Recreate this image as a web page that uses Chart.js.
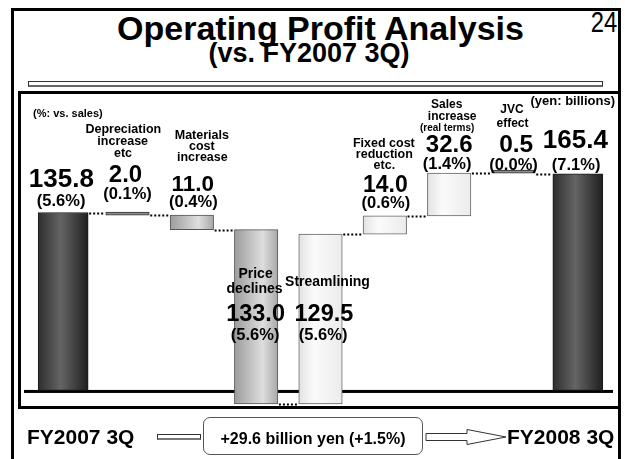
<!DOCTYPE html>
<html><head><meta charset="utf-8">
<script src="https://cdn.jsdelivr.net/npm/chart.js@4.4.1/dist/chart.umd.min.js"></script>
<style>
html,body{margin:0;padding:0;background:#fff;}
body{width:625px;height:459px;position:relative;overflow:hidden;font-family:"Liberation Sans",Arial,Helvetica,sans-serif;color:#000;}
.abs{position:absolute;white-space:nowrap;line-height:1;}
#outer{position:absolute;left:11px;top:8px;width:610px;height:470px;border:3px solid #000;box-sizing:border-box;}
#panel{position:absolute;left:18px;top:91px;width:603px;height:318px;border:3px solid #000;box-sizing:border-box;background:#fff;}
#rule{position:absolute;left:28px;top:81px;width:575px;height:6px;box-sizing:border-box;border:1px solid #333;border-bottom:2px solid #666;background:#fff;}
#shaft{position:absolute;left:157px;top:434px;width:44px;height:6px;box-sizing:border-box;border:1px solid #333;border-bottom:2px solid #777;background:#fff;}
#box{position:absolute;left:203px;top:417px;width:220px;height:38px;box-sizing:border-box;border:1.5px solid #555;border-radius:7px;background:#fff;}
canvas{position:absolute;left:0;top:0;}
</style></head><body>
<div id="outer"></div>
<div id="rule"></div>
<div id="panel"></div>
<div class="abs" style="left:0;width:641px;text-align:center;top:11px;font-size:34px;font-weight:bold;">Operating Profit Analysis</div>
<div class="abs" style="left:0;width:618px;text-align:center;top:40px;font-size:27px;font-weight:bold;">(vs. FY2007 3Q)</div>
<div class="abs" style="right:8px;top:8px;font-size:29px;transform:scaleX(0.82);transform-origin:right center;">24</div>
<div id="shaft"></div>
<div id="box"></div>
<svg style="position:absolute;left:0;top:0" width="625" height="459"><polygon points="426,433.5 467,433.5 467,429.5 506,437 467,444.5 467,440.5 426,440.5" fill="#fff" stroke="#333" stroke-width="1"/></svg>
<canvas id="c" width="625" height="459"></canvas>
<div class="abs" style="left:33px;top:107.5px;font-size:11px;font-weight:bold;">(%: vs. sales)</div>
<div class="abs" style="right:10px;top:93.5px;font-size:13px;font-weight:bold;">(yen: billions)</div>
<div class="abs" style="left:27px;top:426px;font-size:21px;font-weight:bold;">FY2007 3Q</div>
<div class="abs" style="left:507px;top:426px;font-size:21px;font-weight:bold;">FY2008 3Q</div>
<div class="abs" style="left:203px;width:220px;text-align:center;top:431px;font-size:16px;font-weight:bold;">+29.6 billion yen (+1.5%)</div>
<script>
// ---- data ----
const categoryLines = [
  ['FY2007 3Q'],
  ['Depreciation', 'increase', 'etc'],
  ['Materials', 'cost', 'increase'],
  ['Price', 'declines'],
  ['Streamlining'],
  ['Fixed cost', 'reduction', 'etc.'],
  ['Sales', 'increase', '(real terms)'],
  ['JVC', 'effect'],
  ['FY2008 3Q']
];
const amounts = [135.8, 2.0, 11.0, 133.0, 129.5, 14.0, 32.6, 0.5, 165.4];
const direction = [0, -1, -1, -1, 1, 1, 1, 1, 0]; // 0 = total bar
const salesShare = [5.6, 0.1, 0.4, 5.6, 5.6, 0.6, 1.4, 0.0, 7.1];

// ---- waterfall ranges built from the data ----
let running = 0;
const ranges = amounts.map((v, i) => {
  if (direction[i] === 0) { running = v; return [0, v]; }
  const s = running; running = running + direction[i] * v; return [s, running];
});
const labels = categoryLines.map(l => l.join(' '));

// ---- styles ----
const barStyle = ['dark', 'thin', 'mid', 'mid', 'light', 'light', 'light', 'thin', 'dark'];
const gradStops = {
  dark: [[0, '#2e2e2e'], [0.45, '#646464'], [1, '#1f1f1f']],
  mid: [[0, '#9c9c9c'], [0.65, '#dedede'], [1, '#a8a8a8']],
  light: [[0, '#e2e2e2'], [0.35, '#fbfbfb'], [1, '#ebebeb']],
  thin: [[0, '#8c8c8c'], [1, '#8c8c8c']]
};
const borderCol = {dark: '#1a1a1a', thin: '#333', mid: '#555', light: '#666'};
const TOTAL_W = 50, STEP_W = 43.5;
const FONT = '"Liberation Sans", Arial, Helvetica, sans-serif';

function fillFor(ctx) {
  const chart = ctx.chart, i = ctx.dataIndex, kind = barStyle[i], stops = gradStops[kind];
  if (!chart.chartArea) return stops[0][1];
  const x = chart.scales.x.getPixelForValue(i);
  const w = kind === 'dark' ? TOTAL_W : STEP_W;
  const g = chart.ctx.createLinearGradient(x - w / 2, 0, x + w / 2, 0);
  stops.forEach(s => g.addColorStop(s[0], s[1]));
  return g;
}

// label layout: offsets from bar centre (dx) and bar top (dy)
const labelLayout = [
  {lines: [], val: {s: 26, dx: -1.8, dy: -32.5}, pct: {dx: -2, dy: -11.3}},
  {lines: [{s: 12.5, dx: -4.2, dy: -83.2}, {s: 12.5, dx: -4.8, dy: -70.8}, {s: 12.5, dx: -4.5, dy: -59.2}], val: {s: 24, dx: -2, dy: -36.9}, pct: {dx: 0, dy: -17.8}},
  {lines: [{s: 12.5, dx: 10, dy: -79.5}, {s: 12.5, dx: 10, dy: -68.5}, {s: 12.5, dx: 10.5, dy: -57.5}], val: {s: 22.5, dx: 1, dy: -29.9}, pct: {dx: 1.5, dy: -12.4}},
  {lines: [{s: 14, dx: -0.6, dy: 44.4}, {s: 14, dx: -1.6, dy: 59.7}], val: {s: 23.5, dx: -0.6, dy: 85.1}, pct: {dx: -1, dy: 105.7}},
  {lines: [{s: 14, dx: 7, dy: 48.1}], val: {s: 23.5, dx: 3.4, dy: 80.5}, pct: {dx: 2.6, dy: 101.1}},
  {lines: [{s: 12.5, dx: -1, dy: -72.5}, {s: 12.5, dx: -0.5, dy: -60.8}, {s: 12.5, dx: -0.5, dy: -49.8}], val: {s: 23, dx: 0.5, dy: -30}, pct: {dx: 1, dy: -12.2}},
  {lines: [{s: 12, dx: -2.5, dy: -68.1}, {s: 12, dx: 3, dy: -56.1}, {s: 10, dx: -2, dy: -44.8}], val: {s: 24, dx: 0, dy: -27.3}, pct: {dx: -2, dy: -8.2}},
  {lines: [{s: 12, dx: -1.5, dy: -62.4}, {s: 12, dx: -1, dy: -49.1}], val: {s: 24.5, dx: 2.7, dy: -27.4}, pct: {dx: 0, dy: -7.1}},
  {lines: [], val: {s: 26, dx: -2.5, dy: -33}, pct: {dx: -1.7, dy: -8.5}}
];

const waterfallPlugin = {
  id: 'waterfallDecor',
  beforeDatasetsDraw(chart) {
    const {ctx, chartArea, scales} = chart;
    const y0 = scales.y.getPixelForValue(0);
    ctx.save();
    ctx.fillStyle = '#000';
    ctx.fillRect(chartArea.left - 7, y0 - 0.5, chartArea.right - chartArea.left + 10, 3);
    ctx.restore();
  },
  afterDatasetsDraw(chart) {
    const {ctx, scales} = chart;
    const xs = scales.x, ys = scales.y;
    const wOf = i => direction[i] === 0 ? TOTAL_W : STEP_W;
    ctx.save();
    // dotted connectors
    ctx.strokeStyle = '#000';
    ctx.lineWidth = 2;
    ctx.setLineDash([2, 2]);
    for (let i = 0; i < ranges.length - 1; i++) {
      const level = direction[i + 1] === 0 ? ranges[i + 1][1] : ranges[i + 1][0];
      const y = Math.round(ys.getPixelForValue(level)) + 0.5;
      const xa = xs.getPixelForValue(i) + wOf(i) / 2;
      const xb = xs.getPixelForValue(i + 1) - wOf(i + 1) / 2;
      ctx.beginPath(); ctx.moveTo(xa + 1, y); ctx.lineTo(xb - 1, y); ctx.stroke();
    }
    ctx.setLineDash([]);
    // text labels
    ctx.fillStyle = '#000';
    ctx.textAlign = 'center';
    ctx.textBaseline = 'middle';
    ranges.forEach((r, i) => {
      const cx = xs.getPixelForValue(i);
      const top = ys.getPixelForValue(Math.max(r[0], r[1]));
      const L = labelLayout[i];
      if (direction[i] !== 0) {
        categoryLines[i].forEach((t, k) => {
          const p = L.lines[k];
          ctx.font = 'bold ' + p.s + 'px ' + FONT;
          ctx.fillText(t, cx + p.dx, top + p.dy);
        });
      }
      ctx.font = 'bold ' + L.val.s + 'px ' + FONT;
      ctx.fillText(amounts[i].toFixed(1), cx + L.val.dx, top + L.val.dy);
      ctx.font = 'bold 16.5px ' + FONT;
      ctx.fillText('(' + salesShare[i].toFixed(1) + '%)', cx + L.pct.dx, top + L.pct.dy);
    });
    ctx.restore();
  }
};

new Chart(document.getElementById('c'), {
  type: 'bar',
  data: {
    labels: labels,
    datasets: [
      {
        label: 'Total',
        data: ranges.map((r, i) => direction[i] === 0 ? r : null),
        barThickness: TOTAL_W,
        grouped: false,
        backgroundColor: fillFor,
        borderColor: c => borderCol[barStyle[c.dataIndex]],
        borderWidth: 1,
        borderSkipped: false
      },
      {
        label: 'Change',
        data: ranges.map((r, i) => direction[i] !== 0 ? r : null),
        barThickness: STEP_W,
        grouped: false,
        minBarLength: 3,
        backgroundColor: fillFor,
        borderColor: c => borderCol[barStyle[c.dataIndex]],
        borderWidth: 1,
        borderSkipped: false
      }
    ]
  },
  options: {
    responsive: false,
    animation: false,
    devicePixelRatio: 1,
    layout: {padding: {left: 31, right: 15, top: 100, bottom: 51}},
    plugins: {legend: {display: false}, tooltip: {enabled: false}, title: {display: false}},
    scales: {
      x: {display: false, offset: true},
      y: {display: false, min: -13.4, max: 221.7}
    }
  },
  plugins: [waterfallPlugin]
});
</script>
</body></html>
